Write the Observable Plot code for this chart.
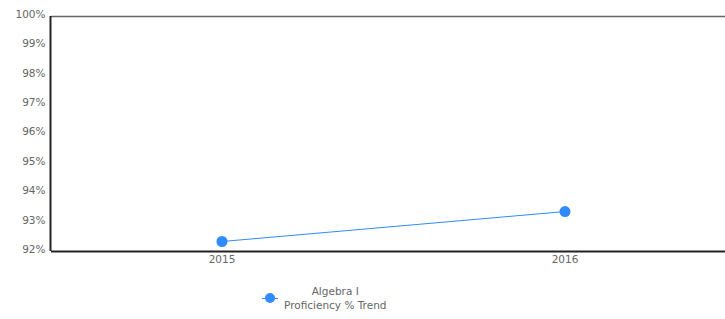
<!DOCTYPE html>
<html>
<head>
<meta charset="utf-8">
<script src="https://cdn.jsdelivr.net/npm/d3@7"></script>
<script src="https://cdn.jsdelivr.net/npm/@observablehq/plot@0.6"></script>
<style>
  body { margin: 0; background: #fff; font-family: "DejaVu Sans", sans-serif; }
  #wrap { position: relative; width: 725px; height: 319px; overflow: hidden; }
  #legend { position: absolute; left: 262px; top: 284px; display: flex; align-items: center; font-size: 10.5px; color: #666; }
  #legend .sw { position: relative; width: 16px; height: 12px; margin-right: 6px; }
  #legend .sw .ln { position: absolute; left: 0; top: 6px; width: 16px; height: 1px; background: #2f8bff; }
  #legend .sw .dt { position: absolute; left: 3px; top: 1px; width: 10px; height: 10px; border-radius: 50%; background: #2f8bff; }
  #legend .tx { text-align: center; line-height: 14px; }
</style>
</head>
<body>
<div id="wrap">
  <div id="chart"></div>
  <div id="legend"><div class="sw"><div class="ln"></div><div class="dt"></div></div><div class="tx">Algebra I<br>Proficiency % Trend</div></div>
</div>
<script>
const years = [2015, 2016];
const proficiency = [92.34, 93.36];
const yTicks = [92, 93, 94, 95, 96, 97, 98, 99, 100];
const seriesName = "Algebra I Proficiency % Trend";

const data = years.map((y, i) => ({year: y, value: proficiency[i]}));

const chart = Plot.plot({
  width: 725,
  height: 272,
  marginTop: 16,
  marginBottom: 21,
  marginLeft: 51,
  marginRight: 0,
  style: {fontFamily: "DejaVu Sans, sans-serif", fontSize: "10.5px", color: "#666", background: "#fff"},
  x: {domain: [2014.5, 2016.5], range: [50, 736], label: null},
  y: {domain: [92, 100], ticks: yTicks, label: null},
  marks: [
    Plot.ruleY([100], {stroke: "#666", strokeWidth: 1.5}),
    Plot.ruleX([2014.5], {y1: 92, y2: 100, stroke: "#222", strokeWidth: 2}),
    Plot.ruleY([92], {stroke: "#222", strokeWidth: 2}),
    Plot.axisY(yTicks, {tickSize: 0, tickPadding: 6, tickFormat: d => d + "%", fill: "#666", dy: -2, label: null}),
    Plot.axisX(years, {tickSize: 0, tickPadding: 4, tickFormat: "d", fill: "#666", label: null}),
    Plot.line(data, {x: "year", y: "value", stroke: "#2f8bff", strokeWidth: 1}),
    Plot.dot(data, {x: "year", y: "value", r: 5.5, fill: "#2f8bff", stroke: "none"})
  ]
});
document.getElementById("chart").appendChild(chart);
</script>
</body>
</html>
